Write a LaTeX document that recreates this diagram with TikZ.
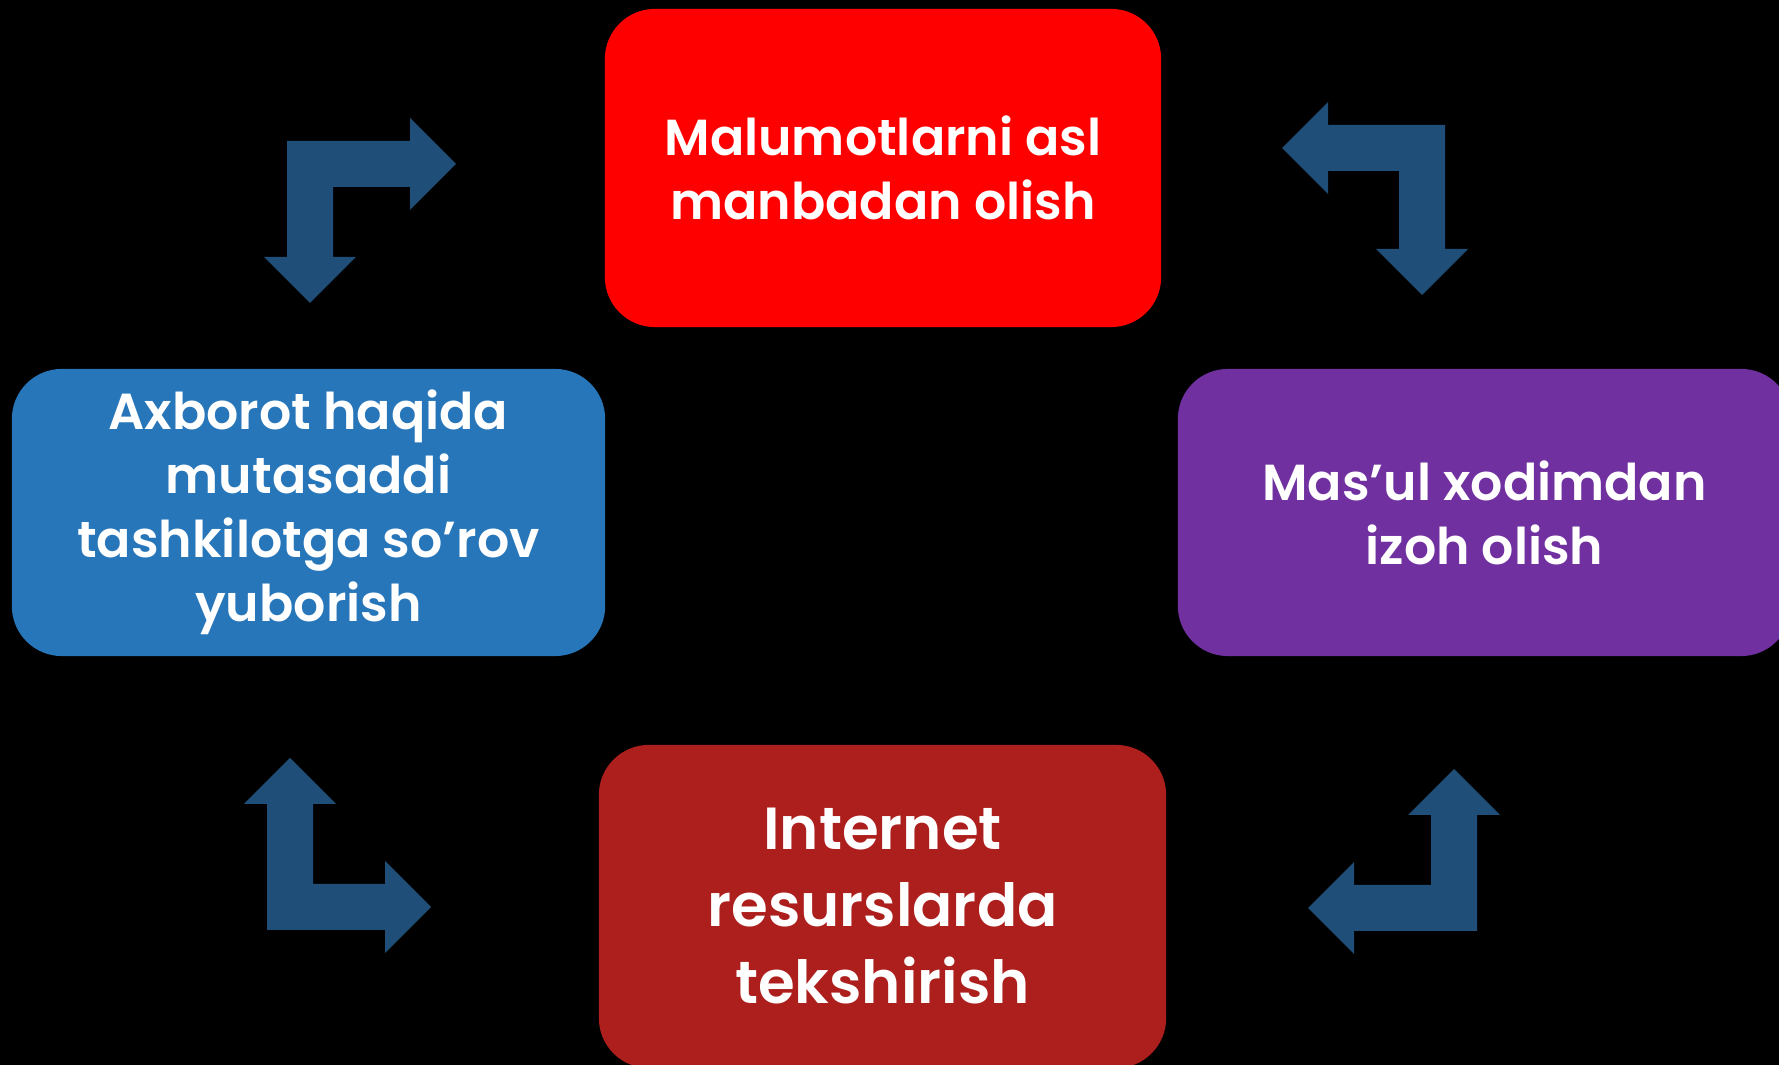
\documentclass[tikz,border=0pt]{standalone}
\usepackage{fontspec}
\setmainfont{Poppins}[BoldFont={* SemiBold}]
\definecolor{arrowblue}{HTML}{1F4E79}
\definecolor{boxred}{HTML}{FF0000}
\definecolor{boxblue}{HTML}{2776B9}
\definecolor{boxpurple}{HTML}{7030A0}
\definecolor{boxdarkred}{HTML}{AD1F1D}
\tikzset{
    stepbox/.style={rounded corners=0.5cm, text=white, align=center,
        font=\bfseries\fontsize{14.4}{18.2}\selectfont, inner sep=0pt},
}
% bent block arrow: corner x, corner y, x sign, y sign, arm x, arm y
\newcommand\BentArrow[6]{%
    \begin{scope}[shift={(#1,#2)},xscale=#3,yscale=#4]
        \fill[arrowblue] (0,0) -- (#5,0) -- (#5,-23) -- ({#5+46},23) -- (#5,69) -- (#5,46)
            -- (46,46) -- (46,#6) -- (69,#6) -- (23,{#6+46}) -- (-23,#6) -- (0,#6) -- cycle;
    \end{scope}
}

\begin{document}
\begin{tikzpicture}[x=0.01cm,y=-0.01cm]
    \useasboundingbox (0,0) rectangle (1779,1065);
    \fill[black] (0,0) rectangle (1779,1065);
    \clip (0,0) rectangle (1779,1065);

    \node[stepbox, fill=boxred, minimum width=5.56cm, minimum height=3.18cm] (manba) at (883,168)
        {Malumotlarni asl\\manbadan olish};
    \node[stepbox, fill=boxblue, minimum width=5.93cm, minimum height=2.87cm] (sorov) at (308.5,512.5)
        {Axborot haqida\\mutasaddi\\tashkilotga so’rov\\yuborish};
    \node[stepbox, fill=boxpurple, minimum width=6.13cm, minimum height=2.87cm] (izoh) at (1484.5,512.5)
        {Mas’ul xodimdan\\izoh olish};
    \node[stepbox, fill=boxdarkred, minimum width=5.67cm, minimum height=3.23cm,
        font=\bfseries\fontsize{16.9}{21.9}\selectfont] (internet) at (882.5,906.5)
        {Internet\\resurslarda\\tekshirish};

    \BentArrow{287}{141}{1}{1}{123}{116}
    \BentArrow{1445}{125}{-1}{1}{117}{124}
    \BentArrow{267}{930}{1}{-1}{118}{126}
    \BentArrow{1477}{931}{-1}{-1}{123}{116}
\end{tikzpicture}
\end{document}
